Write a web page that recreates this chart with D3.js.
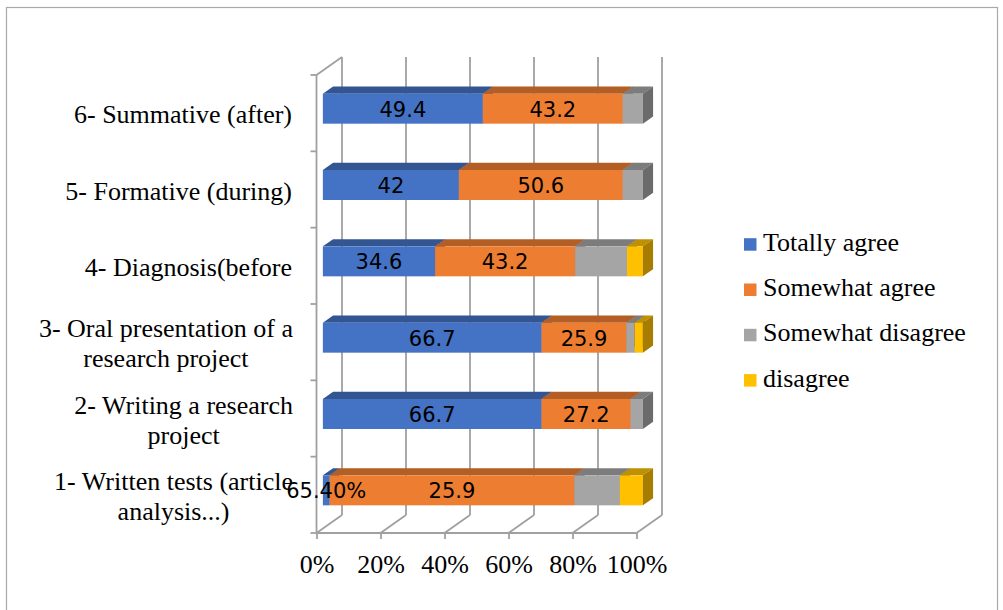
<!DOCTYPE html>
<html><head><meta charset="utf-8">
<script src="https://cdn.jsdelivr.net/npm/d3@7"></script>
<style>body{margin:0;background:#fff} svg{display:block}</style>
</head><body>
<svg id="chart" width="1003" height="610"></svg>
<script>
// ---- data ----
const categories = [
  "1- Written tests (article\nanalysis...)",
  "2- Writing a research\nproject",
  "3- Oral presentation of a\nresearch project",
  "4- Diagnosis(before",
  "5- Formative (during)",
  "6- Summative (after)"
];
const seriesNames = ["Totally agree", "Somewhat agree", "Somewhat disagree", "disagree"];
const totallyAgree      = [2.1, 66.7, 66.7, 34.6, 42.0, 49.4];
const somewhatAgree     = [76.5, 27.2, 25.9, 43.2, 50.6, 43.2];
const somewhatDisagree  = [14.2, 3.7, 2.5, 16.0, 6.2, 6.2];
const disagree          = [7.2, 0, 2.5, 4.9, 0, 0];
const totallyAgreeLabels  = ["65.40%", "66.7", "66.7", "34.6", "42", "49.4"];
const somewhatAgreeLabels = ["25.9", "27.2", "25.9", "43.2", "50.6", "43.2"];
const xTicks = [0, 0.2, 0.4, 0.6, 0.8, 1.0];
const colors = ["#4472C4", "#ED7D31", "#A5A5A5", "#FFC000"];

// ---- layout ----
const svg = d3.select("#chart");
const serif = "'Liberation Serif', 'Times New Roman', serif";
const sans = "'DejaVu Sans', sans-serif";
const floorY = 533, topY = 75;
const DX = 25.5, DY = -18;           // depth of the plot box
const fFront = 0.25, fBack = 0.65;   // bar position inside depth
const gridColor = "#a0a0a0";

svg.append("rect").attr("x", 6.5).attr("y", 7.5).attr("width", 991).attr("height", 700)
  .attr("fill", "none").attr("stroke", "#a9a9a9").attr("stroke-width", 1.2);

const x = d3.scaleLinear().domain([0, 1]).range([316.5, 636.5]);
const y = d3.scaleBand().domain(categories.slice().reverse()).range([topY, floorY]).padding(0);
const bw = y.bandwidth();
const barH = bw * 0.393;

const table = categories.map((c, i) => ({
  cat: c, "Totally agree": totallyAgree[i], "Somewhat agree": somewhatAgree[i],
  "Somewhat disagree": somewhatDisagree[i], "disagree": disagree[i]
}));
const stacked = d3.stack().keys(seriesNames).offset(d3.stackOffsetExpand)(table);

// ---- walls & gridlines ----
const grid = svg.append("g").attr("stroke", gridColor).attr("stroke-width", 1.8).attr("fill", "none");
xTicks.forEach(t => {
  grid.append("line").attr("x1", x(t) + DX).attr("x2", x(t) + DX)
    .attr("y1", topY + DY).attr("y2", floorY + DY);
  grid.append("line").attr("x1", x(t)).attr("y1", floorY)
    .attr("x2", x(t) + DX).attr("y2", floorY + DY);
});
grid.append("line").attr("x1", x(0)).attr("x2", x(1)).attr("y1", floorY).attr("y2", floorY);
grid.append("line").attr("x1", x(0)).attr("x2", x(0)).attr("y1", topY).attr("y2", floorY);
grid.append("line").attr("x1", x(0)).attr("y1", topY).attr("x2", x(0) + DX).attr("y2", topY + DY);
const bounds = categories.map(c => y(c)).concat([floorY]);
bounds.forEach(b => grid.append("line").attr("x1", x(0) - 6).attr("x2", x(0)).attr("y1", b).attr("y2", b));

// x axis (front edge)
const xAxis = d3.axisBottom(x).tickValues(xTicks).tickFormat(d3.format(".0%")).tickSize(6);
const gx = svg.append("g").attr("transform", `translate(0,${floorY})`).call(xAxis);
gx.select(".domain").remove();
gx.selectAll(".tick line").attr("stroke", gridColor).attr("stroke-width", 1.8);
gx.selectAll(".tick text").attr("y", 40).attr("dy", null)
  .attr("font-family", serif).attr("font-size", 26).attr("fill", "#000");

// ---- bars ----
const bx = DX * fFront, by = DY * fFront;
const ddx = DX * (fBack - fFront), ddy = DY * (fBack - fFront);
const barsG = svg.append("g");
table.forEach((row, ci) => {
  const yT = y(row.cat) + bw / 2 - barH / 2 + by;
  const yB = yT + barH;
  stacked.forEach((s, si) => {
    const d = s[ci];
    if (d[1] - d[0] <= 0) return;
    const x0 = x(d[0]) + bx, x1 = x(d[1]) + bx;
    const base = d3.color(colors[si]);
    const topC = d3.rgb(base.r * 0.75, base.g * 0.75, base.b * 0.75);
    const sideC = d3.rgb(base.r * 0.65, base.g * 0.65, base.b * 0.65);
    barsG.append("path").attr("fill", topC)
      .attr("d", `M${x0},${yT}L${x1},${yT}L${x1 + ddx},${yT + ddy}L${x0 + ddx},${yT + ddy}Z`);
    barsG.append("rect").attr("x", x0).attr("y", yT).attr("width", x1 - x0).attr("height", barH).attr("fill", colors[si]);
    barsG.append("path").attr("fill", sideC)
      .attr("d", `M${x1},${yT}L${x1 + ddx},${yT + ddy}L${x1 + ddx},${yB + ddy}L${x1},${yB}Z`);
  });
});

// ---- category labels ----
const catG = svg.append("g").attr("font-family", serif).attr("font-size", 26).attr("fill", "#000");
const R = 293;
categories.forEach(c => {
  const lines = c.split("\n");
  const yc = y(c) + bw / 2;
  const mid = yc + 10;
  const t = catG.append("text");
  const spans = lines.map((ln, i) => t.append("tspan").text(ln)
    .attr("y", mid + (i - (lines.length - 1) / 2) * 30));
  if (lines.length === 1) {
    t.attr("text-anchor", "end"); spans[0].attr("x", R - 1);
  } else {
    const maxW = d3.max(spans, s => s.node().getComputedTextLength());
    t.attr("text-anchor", "middle");
    spans.forEach(s => s.attr("x", R - maxW / 2));
  }
});

// ---- data labels ----
const lblG = svg.append("g").attr("font-family", sans).attr("font-size", 21).attr("fill", "#000").attr("text-anchor", "middle");
[totallyAgreeLabels, somewhatAgreeLabels].forEach((labels, si) => {
  table.forEach((row, ci) => {
    const d = stacked[si][ci];
    const cx = (x(d[0]) + x(d[1])) / 2 + bx;
    const yc = y(row.cat) + bw / 2 + by;
    lblG.append("text").attr("x", cx).attr("y", yc + 8).text(labels[ci]);
  });
});

// ---- legend ----
const leg = svg.append("g").attr("font-family", serif).attr("font-size", 26).attr("fill", "#000");
seriesNames.forEach((n, i) => {
  const yb = 250.7 + i * 45.3;
  leg.append("rect").attr("x", 744).attr("y", yb - 12.5).attr("width", 12.5).attr("height", 12.5).attr("fill", colors[i]);
  leg.append("text").attr("x", 763).attr("y", yb).text(n);
});
</script>
</body></html>
